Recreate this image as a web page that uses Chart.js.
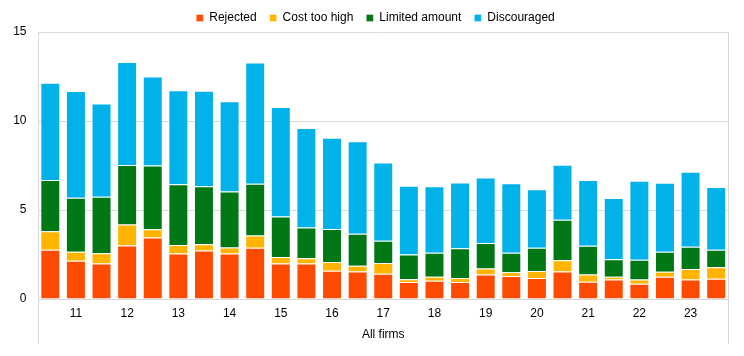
<!DOCTYPE html>
<html>
<head>
<meta charset="utf-8">
<script src="https://cdn.jsdelivr.net/npm/chart.js@4/dist/chart.umd.min.js"></script>
<style>
  html, body { margin: 0; padding: 0; background: #fff; }
  #wrap { width: 744px; height: 356px; }
</style>
</head>
<body>
<div id="wrap"><canvas id="c" width="744" height="356"></canvas></div>
<script>
// Tick labels (one per half-year survey round; year shown on every second bar)
const tickLabels = ['', '11', '', '12', '', '13', '', '14', '', '15', '', '16', '', '17', '', '18', '', '19', '', '20', '', '21', '', '22', '', '23', ''];

const rejected     = [2.77, 2.15, 1.99, 3.00, 3.45, 2.55, 2.72, 2.55, 2.88, 1.99, 1.99, 1.59, 1.55, 1.42, 0.96, 1.03, 0.96, 1.37, 1.29, 1.18, 1.55, 0.97, 1.10, 0.86, 1.25, 1.09, 1.14];
const costTooHigh  = [1.03, 0.51, 0.58, 1.18, 0.47, 0.49, 0.36, 0.34, 0.69, 0.37, 0.30, 0.49, 0.32, 0.60, 0.15, 0.22, 0.22, 0.34, 0.21, 0.39, 0.62, 0.41, 0.15, 0.24, 0.28, 0.60, 0.64];
const limitedAmt   = [2.88, 3.03, 3.18, 3.35, 3.58, 3.41, 3.26, 3.15, 2.90, 2.27, 1.72, 1.85, 1.80, 1.25, 1.39, 1.35, 1.67, 1.44, 1.10, 1.31, 2.28, 1.61, 0.99, 1.10, 1.12, 1.25, 0.99];
const discouraged  = [5.47, 5.99, 5.24, 5.79, 5.00, 5.28, 5.36, 5.07, 6.82, 6.16, 5.60, 5.13, 5.19, 4.40, 3.86, 3.73, 3.69, 3.67, 3.90, 3.28, 3.09, 3.69, 3.43, 4.44, 3.88, 4.21, 3.52];

const seriesNames = ['Rejected', 'Cost too high', 'Limited amount', 'Discouraged'];
const yTicks = [0, 5, 10, 15];
const axisTitle = 'All firms';

const colors = ['#FF4B00', '#FFB400', '#007816', '#00B1EA'];
const FONT = "'Liberation Sans', Arial, sans-serif";
const GRID = '#d9d9d9';

const framePlugin = {
  id: 'frame',
  afterInit(chart) {
    const lg = chart.legend;
    if (lg) {
      const orig = lg.fit.bind(lg);
      lg.fit = function () { orig(); this.height = 32; };
    }
  },
  afterLayout(chart) {
    const lg = chart.legend;
    if (lg) {
      lg.left += 11;
      lg.right += 11;
      lg.top -= 1;
    }
  },
  beforeDatasetsDraw(chart) {
    const { ctx, chartArea } = chart;
    ctx.save();
    ctx.strokeStyle = GRID;
    ctx.lineWidth = 1;
    ctx.beginPath();
    const l = Math.round(chartArea.left) + 0.5;
    const r = Math.round(chartArea.right) - 0.5;
    ctx.moveTo(l, chartArea.top);
    ctx.lineTo(l, 344);
    ctx.moveTo(r, chartArea.top);
    ctx.lineTo(r, 344);
    ctx.stroke();
    ctx.restore();
  }
};

const data = [rejected, costTooHigh, limitedAmt, discouraged];

new Chart(document.getElementById('c'), {
  type: 'bar',
  data: {
    labels: tickLabels,
    datasets: seriesNames.map((n, i) => ({
      label: n,
      data: data[i],
      backgroundColor: colors[i],
      borderColor: 'rgba(255,255,255,0.35)',
      borderWidth: 1,
      barPercentage: 0.78,
      categoryPercentage: 1.0
    }))
  },
  options: {
    responsive: false,
    animation: false,
    devicePixelRatio: 1,
    layout: { padding: { left: 0, right: 15, top: 0, bottom: 14 } },
    plugins: {
      tooltip: { enabled: false },
      legend: {
        position: 'top',
        align: 'center',
        labels: {
          boxWidth: 7,
          boxHeight: 7,
          padding: 13,
          color: '#000',
          font: { family: FONT, size: 12 }
        }
      }
    },
    scales: {
      x: {
        stacked: true,
        grid: { display: false, drawTicks: false },
        border: { display: false },
        ticks: {
          autoSkip: false,
          maxRotation: 0,
          padding: 7,
          color: '#000',
          font: { family: FONT, size: 12 }
        },
        title: {
          display: true,
          text: axisTitle,
          color: '#000',
          font: { family: FONT, size: 12 },
          padding: 0
        },
        afterFit(s) { s.height = 43; }
      },
      y: {
        stacked: true,
        min: 0,
        max: 15,
        afterBuildTicks(s) { s.ticks = yTicks.map(v => ({ value: v })); },
        grid: { color: GRID, drawTicks: false, lineWidth: 1 },
        border: { display: false },
        ticks: {
          padding: 11,
          color: '#000',
          font: { family: FONT, size: 12 }
        },
        afterFit(s) { s.width = 37.5; }
      }
    }
  },
  plugins: [framePlugin]
});
</script>
</body>
</html>
